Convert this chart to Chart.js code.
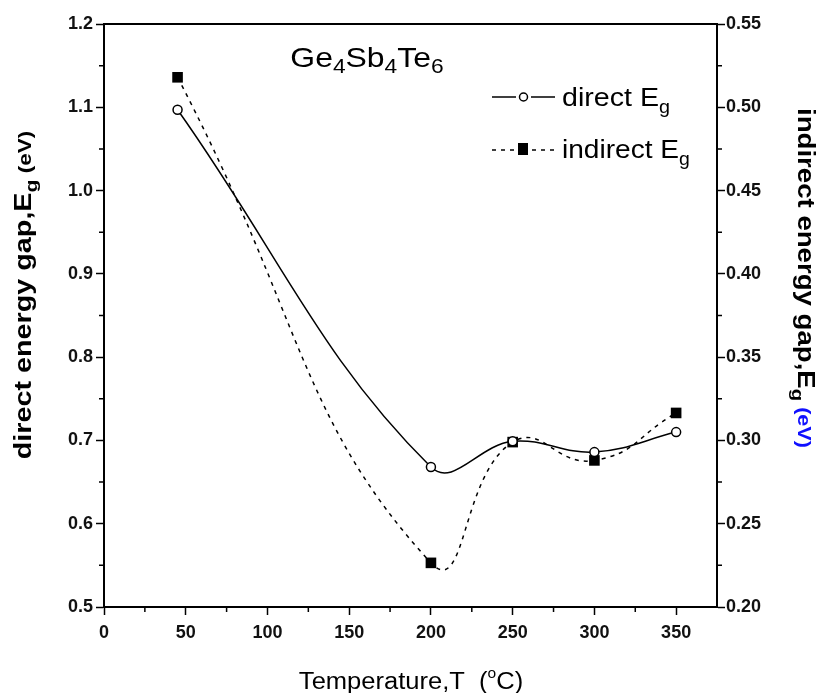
<!DOCTYPE html>
<html>
<head>
<meta charset="utf-8">
<script src="https://cdn.jsdelivr.net/npm/chart.js@4.4.1/dist/chart.umd.min.js"></script>
<style>
  html, body { margin: 0; padding: 0; background: #fff; }
  #wrap { width: 821px; height: 693px; }
</style>
</head>
<body>
<div id="wrap"><canvas id="chart" width="821" height="693"></canvas></div>
<script>
// data
const temps = [45, 200, 250, 300, 350];
const directEg = [1.097, 0.668, 0.699, 0.686, 0.71];
const indirectEg = [0.518, 0.2265, 0.299, 0.288, 0.3165];
const xLabels = [0, 50, 100, 150, 200, 250, 300, 350];

const FONT = "'Liberation Sans', Arial, sans-serif";

// draw a row of text pieces (for subscripts), optionally rotated / stretched
function drawRich(ctx, parts, x, y, opts) {
  opts = opts || {};
  ctx.save();
  ctx.translate(x, y);
  if (opts.rot) ctx.rotate(opts.rot);
  ctx.scale(opts.sx || 1, 1);
  ctx.textBaseline = "alphabetic";
  ctx.textAlign = "left";
  let w = 0;
  parts.forEach((p) => {
    ctx.font = (p.bold ? "bold " : "") + p.size + "px " + FONT;
    w += ctx.measureText(p.text).width;
  });
  let cx = opts.align === "center" ? -w / 2 : 0;
  parts.forEach((p) => {
    ctx.font = (p.bold ? "bold " : "") + p.size + "px " + FONT;
    ctx.fillStyle = p.color || "#000";
    ctx.fillText(p.text, cx, p.dy || 0);
    cx += ctx.measureText(p.text).width;
  });
  ctx.restore();
}

// minor ticks, top frame line, axis titles, label and legend
const decorPlugin = {
  id: "decor",
  afterDraw(chart) {
    const ctx = chart.ctx;
    const a = chart.chartArea;
    const sx = chart.scales.x, sy = chart.scales.y, sy1 = chart.scales.y1;

    ctx.save();
    ctx.strokeStyle = "#000";
    ctx.lineWidth = 1.5;
    ctx.beginPath();
    for (let v = 25; v < 375; v += 50) {
      const px = sx.getPixelForValue(v);
      ctx.moveTo(px, a.bottom); ctx.lineTo(px, a.bottom + 5);
    }
    for (let v = 0.55; v < 1.2; v += 0.1) {
      const py = sy.getPixelForValue(v);
      ctx.moveTo(a.left, py); ctx.lineTo(a.left - 5, py);
    }
    for (let v = 0.225; v < 0.55; v += 0.05) {
      const py = sy1.getPixelForValue(v);
      ctx.moveTo(a.right, py); ctx.lineTo(a.right + 5, py);
    }
    ctx.stroke();
    ctx.lineWidth = 2;
    ctx.beginPath();
    ctx.moveTo(a.left, a.top); ctx.lineTo(a.right, a.top);
    ctx.stroke();
    ctx.restore();

    // axis titles
    drawRich(ctx, [
      { text: "direct energy gap,E", size: 23, bold: true },
      { text: "g", size: 17, bold: true, dy: 6 },
      { text: " (eV)", size: 18, bold: true }
    ], 31, 295, { rot: -Math.PI / 2, align: "center", sx: 1.25 });

    drawRich(ctx, [
      { text: "indirect energy gap,E", size: 23, bold: true },
      { text: "g", size: 17, bold: true, dy: 6 },
      { text: " (eV)", size: 18, bold: true, color: "#1010ff" }
    ], 798, 278, { rot: Math.PI / 2, align: "center", sx: 1.2 });

    drawRich(ctx, [
      { text: "Temperature,T  (", size: 23 },
      { text: "o", size: 14, dy: -11 },
      { text: "C)", size: 23 }
    ], 411, 689, { align: "center", sx: 1.11 });

    // sample label
    drawRich(ctx, [
      { text: "Ge", size: 28 },
      { text: "4", size: 20, dy: 6 },
      { text: "Sb", size: 28 },
      { text: "4", size: 20, dy: 6 },
      { text: "Te", size: 28 },
      { text: "6", size: 20, dy: 6 }
    ], 367, 67, { align: "center", sx: 1.14 });

    // legend
    ctx.save();
    ctx.strokeStyle = "#000";
    ctx.lineWidth = 1.5;
    ctx.beginPath();
    ctx.moveTo(492, 97); ctx.lineTo(516, 97);
    ctx.moveTo(531, 97); ctx.lineTo(555, 97);
    ctx.stroke();
    ctx.beginPath();
    ctx.fillStyle = "#fff";
    ctx.arc(523.5, 97, 4, 0, Math.PI * 2);
    ctx.fill(); ctx.stroke();
    ctx.setLineDash([4, 5]);
    ctx.beginPath();
    ctx.moveTo(492, 150); ctx.lineTo(516, 150);
    ctx.moveTo(532, 150); ctx.lineTo(556, 150);
    ctx.stroke();
    ctx.setLineDash([]);
    ctx.fillStyle = "#000";
    ctx.fillRect(518, 143, 10, 12);
    ctx.restore();

    drawRich(ctx, [
      { text: "direct E", size: 26 },
      { text: "g", size: 18, dy: 7 }
    ], 562, 106, { sx: 1.1 });
    drawRich(ctx, [
      { text: "indirect E", size: 26 },
      { text: "g", size: 18, dy: 7 }
    ], 562, 158, { sx: 1.08 });
  }
};

const tickFont = { family: FONT, size: 18, weight: "bold" };

new Chart(document.getElementById("chart").getContext("2d"), {
  type: "line",
  data: {
    datasets: [
      {
        label: "direct Eg",
        data: temps.map((t, i) => ({ x: t, y: directEg[i] })),
        yAxisID: "y",
        borderColor: "#000",
        borderWidth: 1.5,
        tension: 0.4,
        pointStyle: "circle",
        pointRadius: 4.5,
        pointBackgroundColor: "#fff",
        pointBorderColor: "#000",
        pointBorderWidth: 1.5,
        fill: false,
      },
      {
        label: "indirect Eg",
        data: temps.map((t, i) => ({ x: t, y: indirectEg[i] })),
        yAxisID: "y1",
        borderColor: "#000",
        borderWidth: 1.5,
        borderDash: [4, 5],
        tension: 0.5,
        pointStyle: "rect",
        pointRadius: 7.5,
        pointBackgroundColor: "#000",
        pointBorderColor: "#000",
        pointBorderWidth: 0,
        fill: false,
      },
    ],
  },
  options: {
    responsive: false,
    animation: false,
    layout: { padding: { top: 24, left: 0, right: 0, bottom: 0 } },
    plugins: {
      legend: { display: false },
      tooltip: { enabled: false },
    },
    scales: {
      x: {
        type: "linear",
        position: "bottom",
        min: 0,
        max: 375,
        afterFit: (s) => { s.height = 86; },
        afterBuildTicks: (s) => { s.ticks = xLabels.map((v) => ({ value: v })); },
        ticks: { font: tickFont, color: "#111", padding: 7, maxRotation: 0 },
        grid: { drawOnChartArea: false, tickLength: 8, tickColor: "#000", tickWidth: 1.5 },
        border: { color: "#000", width: 2 },
      },
      y: {
        position: "left",
        min: 0.5,
        max: 1.2,
        afterFit: (s) => { s.width = 104; },
        ticks: { stepSize: 0.1, font: tickFont, color: "#111", padding: 3, callback: (v) => v.toFixed(1) },
        grid: { drawOnChartArea: false, tickLength: 8, tickColor: "#000", tickWidth: 1.5 },
        border: { color: "#000", width: 2 },
      },
      y1: {
        position: "right",
        min: 0.2,
        max: 0.55,
        afterFit: (s) => { s.width = 104; },
        ticks: { stepSize: 0.05, font: tickFont, color: "#111", padding: 1, callback: (v) => v.toFixed(2) },
        grid: { drawOnChartArea: false, tickLength: 8, tickColor: "#000", tickWidth: 1.5 },
        border: { color: "#000", width: 2 },
      },
    },
  },
  plugins: [decorPlugin],
});
</script>
</body>
</html>
